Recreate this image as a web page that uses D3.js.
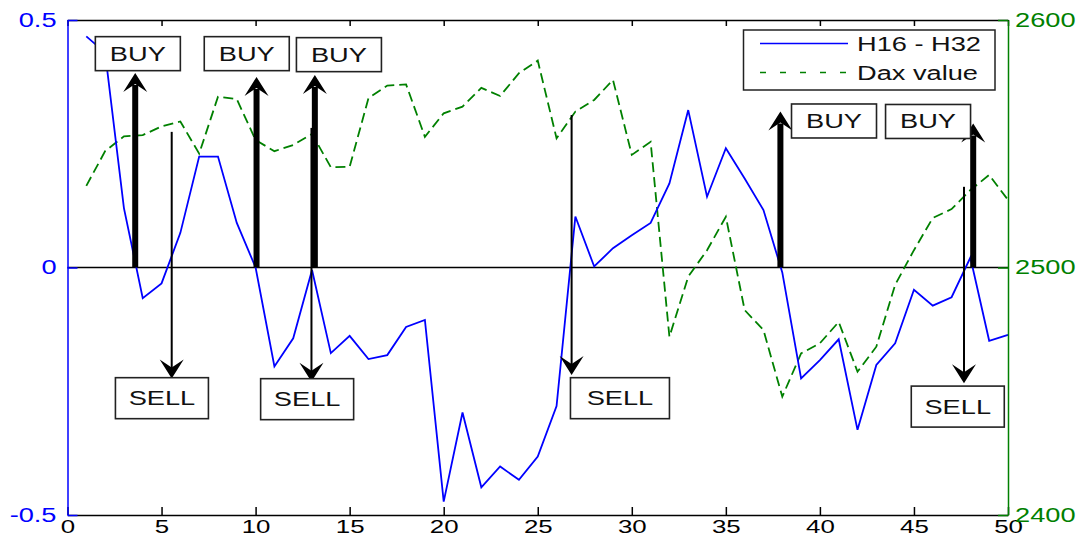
<!DOCTYPE html>
<html>
<head>
<meta charset="utf-8">
<script src="https://cdn.jsdelivr.net/npm/d3@7"></script>
<style>
  html, body { margin: 0; padding: 0; background: #fff; }
  svg { display: block; }
  text { font-family: "Liberation Sans", Arial, sans-serif; }
</style>
</head>
<body>
<svg id="chart" width="1078" height="538"></svg>
<script>
// ---------------- data ----------------
const days = [1,2,3,4,5,6,7,8,9,10,11,12,13,14,15,16,17,18,19,20,21,22,23,24,25,
              26,27,28,29,30,31,32,33,34,35,36,37,38,39,40,41,42,43,44,45,46,47,48,49,50];
const h16h32 = [0.467, 0.434, 0.12, -0.062, -0.032, 0.07, 0.224, 0.224, 0.09, 0.0,
                -0.2, -0.143, -0.005, -0.173, -0.138, -0.185, -0.177, -0.12, -0.106, -0.473,
                -0.293, -0.444, -0.402, -0.429, -0.382, -0.28, 0.103, 0.002, 0.039, 0.065,
                0.09, 0.17, 0.318, 0.143, 0.241, 0.18, 0.116, -0.01, -0.224, -0.187,
                -0.145, -0.328, -0.197, -0.153, -0.045, -0.077, -0.06, 0.02, -0.148, -0.136];
const daxValue = [2533, 2547, 2553, 2553.5, 2557, 2559, 2546, 2569, 2568, 2551.5,
                  2547, 2549.5, 2554, 2540.5, 2540.7, 2568.4, 2573.5, 2574, 2552.8, 2562.3,
                  2565, 2572.6, 2569.3, 2578.5, 2583.6, 2552.2, 2563, 2567.7, 2575.8, 2545.5,
                  2550.8, 2472, 2496.3, 2507, 2520.5, 2482.8, 2474.7, 2447.8, 2465.3, 2469.4,
                  2478, 2457.9, 2468, 2493, 2507, 2520, 2523.6, 2531.3, 2537.4, 2527.3];

const xTicks = [0,5,10,15,20,25,30,35,40,45,50];
const leftTicks = [-0.5, 0, 0.5];
const leftTickLabels = ["-0.5", "0", "0.5"];
const rightTicks = [2400, 2500, 2600];
const rightTickLabels = ["2400", "2500", "2600"];
const seriesNames = ["H16 - H32", "Dax value"];

// BUY signals: arrow x, arrow tip (left-axis units), label box centre (x, left-axis y)
const buyX    = [3.6, 10.05, 13.15, 37.9, 48.15];
const buyTip  = [0.393, 0.385, 0.389, 0.315, 0.291];
const buyBoxX = [3.74, 9.53, 14.43, 40.75, 45.75];
const buyBoxY = [0.432, 0.432, 0.430, 0.296, 0.295];
// SELL signals: arrow x, start, tip, label box centre
const sellX    = [5.54, 12.97, 26.8, 47.66];
const sellTop  = [0.274, 0.282, 0.308, 0.163];
const sellTip  = [-0.224, -0.231, -0.217, -0.234];
const sellBoxX = [5.02, 12.74, 29.37, 47.33];
const sellBoxY = [-0.264, -0.266, -0.264, -0.281];

// ---------------- layout ----------------
const L = 67.5, R = 1008, T = 20, B = 515;
const STRETCH = 1.36;
const BLUE = "#0000ff", GREEN = "#008000", INK = "#111";

const svg = d3.select("#chart");
const x = d3.scaleLinear().domain([0, 50]).range([L, R]);
const yL = d3.scaleLinear().domain([-0.5, 0.5]).range([B, T]);
const yR = d3.scaleLinear().domain([2400, 2600]).range([B, T]);

// zero line
svg.append("line")
  .attr("x1", L).attr("x2", R).attr("y1", yL(0)).attr("y2", yL(0))
  .attr("stroke", "#000").attr("stroke-width", 1.5);

// series
const lineH = d3.line().x((d, i) => x(days[i])).y(d => yL(d));
const lineD = d3.line().x((d, i) => x(days[i])).y(d => yR(d));
svg.append("path").datum(daxValue)
  .attr("d", lineD).attr("fill", "none")
  .attr("stroke", GREEN).attr("stroke-width", 1.8).attr("stroke-dasharray", "10,5");
svg.append("path").datum(h16h32)
  .attr("d", lineH).attr("fill", "none")
  .attr("stroke", BLUE).attr("stroke-width", 1.8);

// axes
function styleAxis(g, color, size) {
  g.selectAll("path.domain").attr("stroke", color).attr("stroke-width", 1.5);
  g.selectAll(".tick line").attr("stroke", color).attr("stroke-width", 1.5);
  g.selectAll(".tick text").attr("fill", color).style("font-size", size || "20px")
    .style("font-family", "Liberation Sans, Arial, sans-serif");
}
const gTop = svg.append("g").attr("transform", `translate(0,${T})`)
  .call(d3.axisTop(x).tickValues(xTicks).tickSizeInner(-6).tickSizeOuter(0).tickFormat(""));
styleAxis(gTop, "#000");
const gBottom = svg.append("g").attr("transform", `translate(0,${B})`)
  .call(d3.axisBottom(x).tickValues(xTicks).tickSizeInner(-8).tickSizeOuter(0).tickPadding(5));
styleAxis(gBottom, "#000", "19px");
const gLeft = svg.append("g").attr("transform", `translate(${L},0)`)
  .call(d3.axisLeft(yL).tickValues(leftTicks).tickSizeInner(-10).tickSizeOuter(0).tickPadding(11)
    .tickFormat((d, i) => leftTickLabels[i]));
styleAxis(gLeft, BLUE);
const gRight = svg.append("g").attr("transform", `translate(${R},0)`)
  .call(d3.axisRight(yR).tickValues(rightTicks).tickSizeInner(-10).tickSizeOuter(0).tickPadding(7)
    .tickFormat((d, i) => rightTickLabels[i]));
styleAxis(gRight, GREEN);

// arrows
const ann = svg.append("g");
function headPath(cx, tipY, dir) { // dir -1 = points up, +1 = points down
  const len = 19, notch = 11, hw = 12;
  return `M${cx},${tipY} L${cx + hw},${tipY - dir * len} L${cx},${tipY - dir * notch} L${cx - hw},${tipY - dir * len} Z`;
}
buyX.forEach((bx, i) => {
  const cx = x(bx);
  ann.append("line").attr("x1", cx).attr("x2", cx)
    .attr("y1", yL(0)).attr("y2", yL(buyTip[i]) + 12)
    .attr("stroke", "#000").attr("stroke-width", 6);
  ann.append("path").attr("d", headPath(cx, yL(buyTip[i]), -1)).attr("fill", "#000");
});
sellX.forEach((sx, i) => {
  const cx = x(sx);
  ann.append("line").attr("x1", cx).attr("x2", cx)
    .attr("y1", yL(sellTop[i])).attr("y2", yL(sellTip[i]) - 10)
    .attr("stroke", "#000").attr("stroke-width", 2);
  ann.append("path").attr("d", headPath(cx, yL(sellTip[i]), 1)).attr("fill", "#000");
});

// label boxes
function labelBox(cx, cy, w, h, label) {
  ann.append("rect").attr("x", cx - w / 2).attr("y", cy - h / 2)
    .attr("width", w).attr("height", h)
    .attr("fill", "#fff").attr("stroke", "#222").attr("stroke-width", 1.6);
  ann.append("text").attr("x", cx).attr("y", cy).attr("dy", "0.35em")
    .attr("text-anchor", "middle").attr("fill", INK)
    .style("font-size", "20px").text(label);
}
buyBoxX.forEach((bx, i) => labelBox(x(bx), yL(buyBoxY[i]), 85, 34, "BUY"));
sellBoxX.forEach((sx, i) => labelBox(x(sx), yL(sellBoxY[i]), i === 2 ? 99 : 93, 41, "SELL"));

// legend
const lg = svg.append("g");
lg.append("rect").attr("x", 743.5).attr("y", 30).attr("width", 251.5).attr("height", 60)
  .attr("fill", "#fff").attr("stroke", "#222").attr("stroke-width", 1.5);
lg.append("line").attr("x1", 760).attr("x2", 848).attr("y1", 43.5).attr("y2", 43.5)
  .attr("stroke", BLUE).attr("stroke-width", 1.6);
lg.append("line").attr("x1", 760).attr("x2", 848).attr("y1", 72.5).attr("y2", 72.5)
  .attr("stroke", GREEN).attr("stroke-width", 1.6).attr("stroke-dasharray", "6,14");
lg.append("text").attr("x", 857).attr("y", 43.5).attr("dy", "0.35em").attr("fill", INK)
  .style("font-size", "20px").text(seriesNames[0]);
lg.append("text").attr("x", 857).attr("y", 72.5).attr("dy", "0.35em").attr("fill", INK)
  .style("font-size", "20px").text(seriesNames[1]);

// horizontal stretch of all text to mimic the reference rendering
svg.selectAll("text").each(function () {
  const w = this.getComputedTextLength();
  if (w > 0) d3.select(this).attr("textLength", w * STRETCH).attr("lengthAdjust", "spacingAndGlyphs");
});
</script>
</body>
</html>
